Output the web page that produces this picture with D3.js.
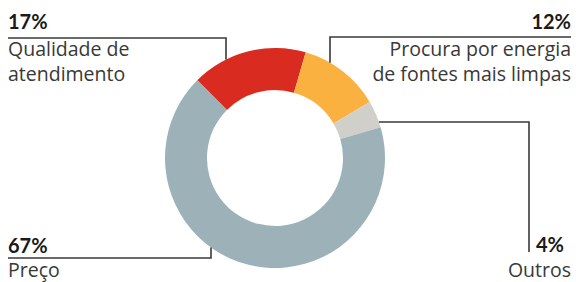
<!DOCTYPE html>
<html>
<head>
<meta charset="utf-8">
<style>
  * { margin: 0; padding: 0; }
  body { background: #fff; }
  text { font-family: 'Open Sans', 'Noto Sans', sans-serif; }
  .pct { font-family: Lato, sans-serif; font-weight: 700; font-size: 20px; fill: #1a1a1a; }
  .lbl { font-size: 19.5px; fill: #383838; }
  .leader { fill: none; stroke: #3a3a3a; stroke-width: 1.6; }
</style>
</head>
<body>
<div id="chart"></div>
<script src="https://cdn.jsdelivr.net/npm/d3@7"></script>
<script>
// data
const categories = ['Qualidade de atendimento', 'Procura por energia de fontes mais limpas', 'Outros', 'Preço'];
const values = [17, 12, 4, 67];
const labelLines = [['Qualidade de', 'atendimento'], ['Procura por energia', 'de fontes mais limpas'], ['Outros'], ['Preço']];
const colors = ['#d92b1f', '#fbb13f', '#d0cfca', '#9db2b8'];

const W = 576, H = 282;
const cx = 275, cy = 158, rOuter = 110, rInner = 68;

// label layout: text anchor/x, pct baseline, label baseline, leader line
const layout = [
  {anchor: 'start', x: 8, y: 29, ly: 56, lx: 8, lAnchor: 'start', lineY: 38, from: 8, elbowX: 226, dir: 'top'},
  {anchor: 'end', x: 571, y: 29, ly: 56, lx: 571, lAnchor: 'end', lineY: 37, from: 571, elbowX: 330, dir: 'top'},
  {anchor: 'start', x: 536, y: 252, ly: 277, lx: 571, lAnchor: 'end', lineY: 122, from: 529, dir: 'right', endY: 252},
  {anchor: 'start', x: 8, y: 253, ly: 277, lx: 8, lAnchor: 'start', lineY: 258, from: 8, elbowX: 211, dir: 'bottom'}
];

const svg = d3.select('#chart').append('svg')
  .attr('width', W).attr('height', H);

const pie = d3.pie().sort(null)
  .startAngle(-Math.PI / 4)
  .endAngle(2 * Math.PI - Math.PI / 4)
  .value(d => d);

const arc = d3.arc().innerRadius(rInner).outerRadius(rOuter);

const g = svg.append('g').attr('transform', `translate(${cx},${cy})`);
g.selectAll('path')
  .data(pie(values))
  .enter().append('path')
  .attr('d', arc)
  .attr('fill', (d, i) => colors[i]);

// leaders + labels
layout.forEach((L, i) => {
  let pts;
  if (L.dir === 'top' || L.dir === 'bottom') {
    const dx = L.elbowX - cx;
    const dy = Math.sqrt(rOuter * rOuter - dx * dx);
    const yEnd = L.dir === 'top' ? cy - dy : cy + dy;
    pts = [[L.from, L.lineY], [L.elbowX, L.lineY], [L.elbowX, yEnd]];
  } else {
    const dy = L.lineY - cy;
    const xEnd = cx + Math.sqrt(rOuter * rOuter - dy * dy);
    pts = [[xEnd, L.lineY], [L.from, L.lineY], [L.from, L.endY]];
  }
  svg.append('path').attr('class', 'leader').attr('d', d3.line()(pts));

  svg.append('text').attr('class', 'pct')
    .attr('x', L.x).attr('y', L.y)
    .attr('text-anchor', L.anchor)
    .text(values[i] + '%');

  labelLines[i].forEach((t, j) => {
    svg.append('text').attr('class', 'lbl')
      .attr('x', L.lx)
      .attr('y', L.ly + j * 25)
      .attr('text-anchor', L.lAnchor)
      .text(t);
  });
});
</script>
</body>
</html>
